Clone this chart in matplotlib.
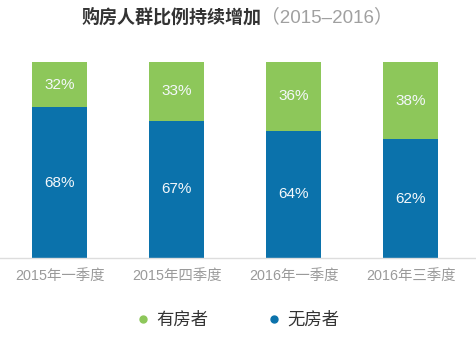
import matplotlib
matplotlib.use("Agg")
import matplotlib.pyplot as plt
from matplotlib.lines import Line2D

plt.rcParams['font.family'] = ['Liberation Sans', 'Noto Sans CJK SC', 'DejaVu Sans']

# data
quarters = ['2015年一季度', '2015年四季度', '2016年一季度', '2016年三季度']
owners_pct = [32, 33, 36, 38]       # printed labels
nonowners_pct = [68, 67, 64, 62]
# drawn share of the bar (the picture is not drawn to scale)
owners_drawn = [0.23, 0.30, 0.35, 0.395]

green = '#8dc75a'
blue = '#0b72ab'

fig = plt.figure(figsize=(4.76, 3.38), dpi=100)
ax = fig.add_axes([0.0, 1 - 258 / 338, 1.0, 196 / 338])

x = range(len(quarters))
nonowners_drawn = [1 - v for v in owners_drawn]
ax.bar(x, nonowners_drawn, width=0.47, color=blue)
ax.bar(x, owners_drawn, width=0.47, bottom=nonowners_drawn, color=green)

for i in x:
    ax.text(i, nonowners_drawn[i] / 2, '%d%%' % nonowners_pct[i],
            ha='center', va='center', color='#f4f8fb', fontsize=11)
    ax.text(i, nonowners_drawn[i] + owners_drawn[i] / 2, '%d%%' % owners_pct[i],
            ha='center', va='center', color='#f4f8fb', fontsize=11)

ax.set_xlim(-0.51, 3.56)
ax.set_ylim(0, 1)
ax.set_xticks(list(x))
ax.set_xticklabels(quarters, color='#9a9a9a', fontsize=10.4)
ax.tick_params(axis='x', length=0, pad=8)
ax.set_yticks([])
for s in ['top', 'left', 'right']:
    ax.spines[s].set_visible(False)
ax.spines['bottom'].set_color('#dddddd')
ax.spines['bottom'].set_linewidth(1)

# title in two parts
fig.text(261 / 476, 1 - 17 / 338, '购房人群比例持续增加', ha='right', va='center',
         fontsize=13, fontweight='bold', color='#333333',
         family=['Noto Sans CJK SC', 'DejaVu Sans'])
fig.text(261 / 476, 1 - 17 / 338, '（2015–2016）', ha='left', va='center',
         fontsize=13.5, color='#a0a0a0',
         family=['Liberation Sans', 'Noto Sans CJK SC', 'DejaVu Sans'])

handles = [Line2D([], [], marker='o', linestyle='', color=green, markersize=5),
           Line2D([], [], marker='o', linestyle='', color=blue, markersize=5)]
leg = fig.legend(handles, ['有房者', '无房者'], loc='center',
                 bbox_to_anchor=(237 / 476, 1 - 320 / 338), ncol=2, frameon=False,
                 fontsize=12.5, handletextpad=0.25, columnspacing=3.3, handlelength=1)
for t in leg.get_texts():
    t.set_color('#333333')
    t.set_family(['Noto Sans CJK SC', 'DejaVu Sans'])

fig.savefig('out.png', dpi=100)
